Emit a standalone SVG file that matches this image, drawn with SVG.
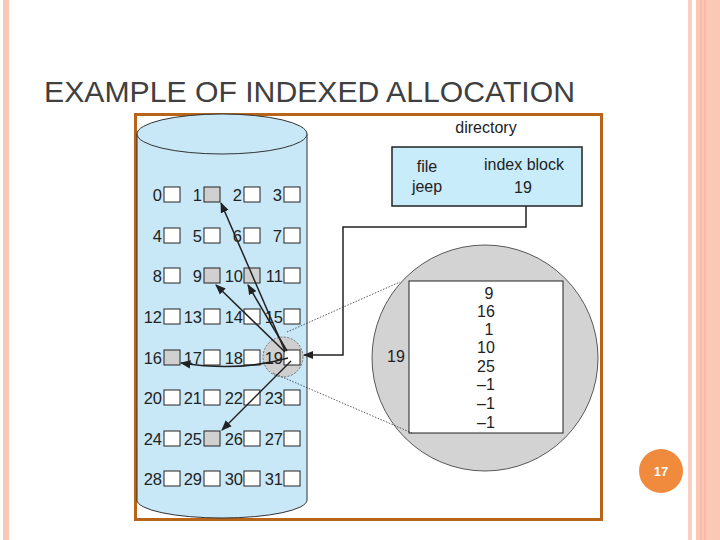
<svg xmlns="http://www.w3.org/2000/svg" width="720" height="540" viewBox="0 0 720 540">
<defs>
<style>
.t{font-family:"Liberation Sans",Arial,sans-serif;fill:#222}
.n{font-size:16.5px;text-anchor:end}
.b{fill:#fff;stroke:#222;stroke-width:1}
.g{fill:#d0d0d0;stroke:#222;stroke-width:1}
.ar{fill:none;stroke:#222;stroke-width:1.5;marker-end:url(#ah)}
.dot{fill:none;stroke:#333;stroke-width:0.8;stroke-dasharray:1.5 1.5}
</style>
<marker id="ah" viewBox="0 0 10 10" refX="9" refY="5" markerWidth="7" markerHeight="7" orient="auto"><path d="M0,1 L10,5 L0,9 z" fill="#222"/></marker>
</defs>
<rect width="720" height="540" fill="#fff"/>
<rect x="3" y="0" width="6" height="540" fill="#f8c8b4"/>
<rect x="688" y="0" width="4" height="540" fill="#f9d0c0"/>
<rect x="696" y="0" width="24" height="540" fill="#fcc8b6"/>
<line x1="701" y1="0" x2="701" y2="540" stroke="#f3ab95" stroke-width="1"/>
<line x1="705" y1="0" x2="705" y2="540" stroke="#f3ab95" stroke-width="1"/>
<text x="44" y="102" font-family="Liberation Sans,Arial,sans-serif" font-size="30" fill="#404040" textLength="531" lengthAdjust="spacingAndGlyphs">EXAMPLE OF INDEXED ALLOCATION</text>
<rect x="135.5" y="114.5" width="466" height="405" fill="#fff" stroke="#b8651a" stroke-width="3"/>
<g id="disk">
<path d="M137,134 V500 A85,18 0 0 0 307,500 V134 Z" fill="#c8e8f8" stroke="#333" stroke-width="1"/>
<ellipse cx="222" cy="134" rx="85" ry="20" fill="#c8e8f8" stroke="#333" stroke-width="1"/>
<circle cx="283" cy="357" r="20" fill="#cfcfcf" stroke="#555" stroke-width="0.8" stroke-dasharray="2 1.5"/>
<g class="t n">
<text x="162" y="201">0</text><text x="202" y="201">1</text><text x="242" y="201">2</text><text x="282" y="201">3</text>
<text x="162" y="242">4</text><text x="202" y="242">5</text><text x="242" y="242">6</text><text x="282" y="242">7</text>
<text x="162" y="282">8</text><text x="202" y="282">9</text><text x="243" y="282">10</text><text x="283" y="282">11</text>
<text x="162" y="323">12</text><text x="202" y="323">13</text><text x="243" y="323">14</text><text x="283" y="323">15</text>
<text x="162" y="364">16</text><text x="202" y="364">17</text><text x="243" y="364">18</text><text x="283" y="364">19</text>
<text x="162" y="404">20</text><text x="202" y="404">21</text><text x="243" y="404">22</text><text x="283" y="404">23</text>
<text x="162" y="445">24</text><text x="202" y="445">25</text><text x="243" y="445">26</text><text x="283" y="445">27</text>
<text x="162" y="485">28</text><text x="202" y="485">29</text><text x="243" y="485">30</text><text x="283" y="485">31</text>
</g>
<g>
<rect class="b" x="164" y="187" width="16" height="15"/><rect class="g" x="204" y="187" width="16" height="15"/><rect class="b" x="244" y="187" width="16" height="15"/><rect class="b" x="284" y="187" width="16" height="15"/>
<rect class="b" x="164" y="228" width="16" height="15"/><rect class="b" x="204" y="228" width="16" height="15"/><rect class="b" x="244" y="228" width="16" height="15"/><rect class="b" x="284" y="228" width="16" height="15"/>
<rect class="b" x="164" y="268" width="16" height="15"/><rect class="g" x="204" y="268" width="16" height="15"/><rect class="g" x="244" y="268" width="16" height="15"/><rect class="b" x="284" y="268" width="16" height="15"/>
<rect class="b" x="164" y="309" width="16" height="15"/><rect class="b" x="204" y="309" width="16" height="15"/><rect class="b" x="244" y="309" width="16" height="15"/><rect class="b" x="284" y="309" width="16" height="15"/>
<rect class="g" x="164" y="350" width="16" height="15"/><rect class="b" x="204" y="350" width="16" height="15"/><rect class="b" x="244" y="350" width="16" height="15"/><rect class="b" x="284" y="350" width="16" height="15"/>
<rect class="b" x="164" y="390" width="16" height="15"/><rect class="b" x="204" y="390" width="16" height="15"/><rect class="b" x="244" y="390" width="16" height="15"/><rect class="b" x="284" y="390" width="16" height="15"/>
<rect class="b" x="164" y="431" width="16" height="15"/><rect class="g" x="204" y="431" width="16" height="15"/><rect class="b" x="244" y="431" width="16" height="15"/><rect class="b" x="284" y="431" width="16" height="15"/>
<rect class="b" x="164" y="471" width="16" height="15"/><rect class="b" x="204" y="471" width="16" height="15"/><rect class="b" x="244" y="471" width="16" height="15"/><rect class="b" x="284" y="471" width="16" height="15"/>
</g>
</g>
<g id="directory">
<text x="486" y="133" class="t" font-size="16" text-anchor="middle">directory</text>
<rect x="392" y="147" width="190" height="59" fill="#c8ecf9" stroke="#222" stroke-width="1.5"/>
<text x="427" y="172" class="t" font-size="16" text-anchor="middle">file</text>
<text x="427" y="192" class="t" font-size="16" text-anchor="middle">jeep</text>
<text x="524" y="170" class="t" font-size="16" text-anchor="middle">index block</text>
<text x="523" y="193" class="t" font-size="16" text-anchor="middle">19</text>
</g>
<g id="indexblock">
<circle cx="485" cy="358" r="113" fill="#d3d3d3" stroke="#333" stroke-width="0.8"/>
<rect x="409" y="281" width="154" height="152" fill="#fff" stroke="#222" stroke-width="1"/>
<text x="396" y="362" class="t" font-size="16" text-anchor="middle">19</text>
<g class="t" font-size="16" text-anchor="middle">
<text x="489" y="299">9</text><text x="486" y="317">16</text><text x="489" y="335">1</text><text x="486" y="353">10</text>
<text x="486" y="372">25</text><text x="486" y="390">–1</text><text x="486" y="409">–1</text><text x="486" y="428">–1</text>
</g>
</g>
<g id="connectors">
<polyline points="526,206 526,227 343,227 343,355 304,355" fill="none" stroke="#222" stroke-width="1.5" marker-end="url(#ah)"/>
<line class="dot" x1="287" y1="332" x2="400" y2="282"/>
<line class="dot" x1="273" y1="373" x2="412" y2="433"/>
<line class="ar" x1="285" y1="351" x2="221" y2="203"/>
<line class="ar" x1="285" y1="352" x2="216" y2="285"/>
<line class="ar" x1="287" y1="351" x2="248" y2="285"/>
<path class="ar" d="M288,358 Q240,372 181,363"/>
<line class="ar" x1="291" y1="361" x2="222" y2="430"/>
</g>
<g id="page">
<circle cx="661" cy="471" r="22" fill="#f08a3c"/>
<text x="661" y="476" font-family="Liberation Sans,Arial,sans-serif" font-size="13" font-weight="bold" fill="#fff" text-anchor="middle">17</text>
</g>
</svg>
